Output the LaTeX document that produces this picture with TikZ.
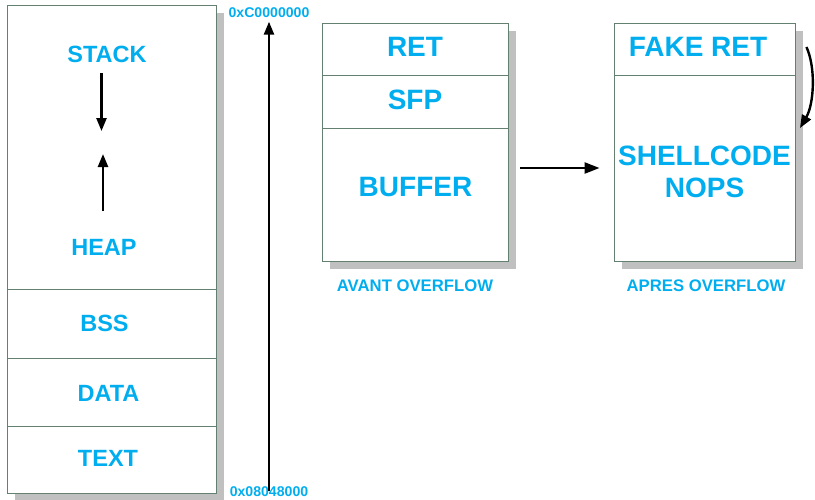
\documentclass[tikz,border=0pt]{standalone}
\usepackage{fontspec}
\setmainfont{Liberation Sans}
\usetikzlibrary{arrows.meta,calc,backgrounds}
\definecolor{labelblue}{RGB}{0,174,239}
\definecolor{cellline}{RGB}{100,128,112}
\definecolor{shadowgrey}{RGB}{192,192,192}
\begin{document}
\begin{tikzpicture}[x=1pt,y=-1pt,
  cell/.style={draw=cellline, line width=0.9pt, fill=white, inner sep=0pt},
  seg/.style={text=labelblue, inner sep=0pt, font=\bfseries\fontsize{23.5}{26}\selectfont},
  frame/.style={text=labelblue, inner sep=0pt, font=\bfseries\fontsize{28}{31}\selectfont},
  caption/.style={text=labelblue, inner sep=0pt, font=\bfseries\fontsize{16.7}{19}\selectfont},
  addr/.style={text=labelblue, inner sep=0pt, font=\bfseries\fontsize{14.1}{16}\selectfont},
  arr/.style={line width=2.4pt, -{Triangle[length=13pt,width=10pt]}},
  shadowbox/.style={fill=shadowgrey}]
\useasboundingbox (0,0) rectangle (815,499);

% process memory layout
\node[cell, minimum width=209pt, minimum height=284pt] (stackheap) at (111.5,147) {};
\node[cell, minimum width=209pt, minimum height=69pt] (bss) at (111.5,323.5) {};
\node[cell, minimum width=209pt, minimum height=68pt] (data) at (111.5,392) {};
\node[cell, minimum width=209pt, minimum height=67pt] (textseg) at (111.5,459.5) {};
\node[seg] (stacklbl) at (107,54) {STACK};
\node[seg] (heaplbl) at (104,247) {HEAP};
\node[seg] (bsslbl) at (104.5,323) {BSS};
\node[seg] (datalbl) at (108.5,393) {DATA};
\node[seg] (textlbl) at (108,458) {TEXT};

% growth directions of stack and heap
\coordinate (downfrom) at (101.5,73);
\coordinate (downto) at (101.5,131);
\coordinate (upfrom) at (103,211);
\coordinate (upto) at (103,154);
\draw[arr] (downfrom) -- (downto);
\draw[arr] (upfrom) -- (upto);

% address axis
\node[addr] (highaddr) at (269,12.5) {0xC0000000};
\node[addr] (lowaddr) at (269,492) {0x08048000};
\draw[arr] ([yshift=-4pt]lowaddr.north) -- ([yshift=-4pt]highaddr.south);

% stack frame before overflow
\node[cell, minimum width=186pt, minimum height=52pt] (ret) at (415,49) {};
\node[cell, minimum width=186pt, minimum height=53pt] (sfp) at (415,101.5) {};
\node[cell, minimum width=186pt, minimum height=133pt] (buffer) at (415,194.5) {};
\node[frame] at (415,47) {RET};
\node[frame] at (415,100) {SFP};
\node[frame] at (415.5,187) {BUFFER};
\node[caption] at (415,286) {AVANT OVERFLOW};

% stack frame after overflow
\node[cell, minimum width=181pt, minimum height=52pt] (fake) at (704.5,49) {};
\node[cell, minimum width=181pt, minimum height=186pt] (shell) at (704.5,168) {};
\node[frame] at (698,47) {FAKE RET};
\node[frame, align=center, font=\bfseries\fontsize{28}{32}\selectfont] at (704.5,172) {SHELLCODE\\NOPS};
\node[caption] at (706,286) {APRES OVERFLOW};

% transition and redirected return
\draw[arr, -{Triangle[length=15pt,width=11pt]}, shorten <=12pt, shorten >=14pt]
  (buffer.east |- shell.west) -- (shell.west);
\coordinate (jumpfrom) at ($(fake.east)+(11,-2)$);
\coordinate (jumpto) at (800,128);
\draw[arr] (jumpfrom) .. controls (816,68) and (814,104) .. (jumpto);

% drop shadows
\begin{scope}[on background layer]
  \fill[shadowbox] ($(stackheap.north west)+(8,8)$) rectangle ($(textseg.south east)+(8,8)$);
  \fill[shadowbox] ($(ret.north west)+(8,8)$) rectangle ($(buffer.south east)+(8,8)$);
  \fill[shadowbox] ($(fake.north west)+(8,8)$) rectangle ($(shell.south east)+(8,8)$);
\end{scope}
\end{tikzpicture}
\end{document}
